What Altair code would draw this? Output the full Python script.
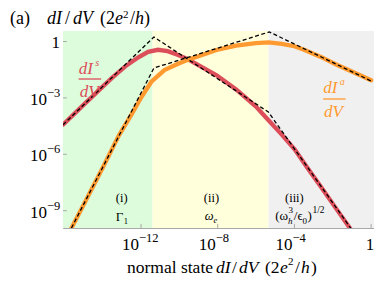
import altair as alt
import pandas as pd

# ---------- data (log10 units) ----------
x_min, x_max = -16.07, 0.15
y_min, y_max = -9.92, 0.56

region_start = [-16.07, -11.4, -5.35]
region_end = [-11.4, -5.35, 0.15]
region_colors = ["#DCFCDC", "#FFFFDC", "#F0F0F0"]

red_x = [-16.07, -15.0, -14.53, -14.0, -13.5, -12.82, -12.14, -11.63, -11.12, -10.61,
         -10.10, -9.59, -9.08, -8.06, -7.04, -6.02, -5.34, -4.66, -3.98, -3.3, -2.62,
         -1.85, -1.0]
red_y = [-4.43, -3.37, -2.92, -2.40, -1.92, -1.32, -0.84, -0.55, -0.44, -0.51,
         -0.70, -0.92, -1.21, -1.80, -2.55, -3.45, -4.20, -4.95, -5.75, -6.75, -7.72,
         -8.85, -10.08]

orange_x = [-15.7, -15.0, -14.0, -13.16, -12.48, -11.97, -11.46, -10.78, -10.10, -9.59,
            -9.08, -8.06, -7.04, -6.02, -5.34, -4.66, -4.0, -3.47, -2.62, -1.77, -0.92, 0.0]
orange_y = [-10.06, -8.70, -6.72, -5.0, -3.85, -2.94, -2.14, -1.52, -1.20, -0.98,
            -0.81, -0.45, -0.22, -0.08, -0.05, -0.12, -0.25, -0.45, -0.82, -1.25, -1.63, -2.06]

red_asym_x = [-16.07, -11.33, -5.36, -1.07]
red_asym_y = [-4.43, 0.24, -3.75, -9.92]
orange_asym_x = [-15.63, -11.33, -5.31, 0.0]
orange_asym_y = [-9.92, -1.41, 0.51, -2.10]

x_tick_vals = [-12, -8, -4]
x_tick_exp = ["\u221212", "\u22128", "\u22124"]
x_one = [0]
y_tick_vals = [-3, -6, -9]
y_tick_exp = ["\u22123", "\u22126", "\u22129"]
y_one = [0]

RED = "#DC4E5A"
ORANGE = "#FF9A30"
FONT = "Liberation Serif"
W, H = 311, 197
OX, OY = 63, 31          # absolute page position of plot origin
K = W / 318.0            # horizontal factor relative to the reference picture

xs = alt.Scale(domain=[x_min, x_max], nice=False, zero=False)
ys = alt.Scale(domain=[y_min, y_max], nice=False, zero=False)

regions = pd.DataFrame({"start": region_start, "end": region_end, "color": region_colors,
                        "y0": [y_min] * 3, "y1": [y_max] * 3})
bg = alt.Chart(regions).mark_rect().encode(
    x=alt.X("start:Q", scale=xs,
            axis=alt.Axis(values=[], title=None, grid=False, ticks=False, labels=False,
                          domainColor="#A8A8A8")),
    x2="end:Q",
    y=alt.Y("y0:Q", scale=ys,
            axis=alt.Axis(values=[], title=None, grid=False, ticks=False, labels=False,
                          domainColor="#A8A8A8")),
    y2="y1:Q",
    color=alt.Color("color:N", scale=None),
)

# small inward ticks
all_x = x_tick_vals + x_one
all_y = y_tick_vals + y_one
xt = pd.DataFrame({"v": all_x, "a": [y_min] * len(all_x), "b": [y_min + 0.22] * len(all_x)})
yt = pd.DataFrame({"v": all_y, "a": [x_min] * len(all_y), "b": [x_min + 0.2] * len(all_y)})
xticks = alt.Chart(xt).mark_rule(color="#A8A8A8", strokeWidth=1).encode(
    x=alt.X("v:Q", scale=xs), y=alt.Y("a:Q", scale=ys), y2="b:Q")
yticks = alt.Chart(yt).mark_rule(color="#A8A8A8", strokeWidth=1).encode(
    y=alt.Y("v:Q", scale=ys), x=alt.X("a:Q", scale=xs), x2="b:Q")

# tick labels: "10" plus raised exponent
xl = pd.DataFrame({"v": x_tick_vals, "e": x_tick_exp, "b": ["10"] * 3, "y": [y_min] * 3})
yl = pd.DataFrame({"v": y_tick_vals, "e": y_tick_exp, "b": ["10"] * 3, "x": [x_min] * 3})
x1 = pd.DataFrame({"v": x_one, "b": ["1"], "y": [y_min]})
y1 = pd.DataFrame({"v": y_one, "b": ["1"], "x": [x_min]})
tk = dict(font=FONT, baseline="alphabetic", color="black")
xl_base = alt.Chart(xl).mark_text(align="right", dx=-2, dy=22, fontSize=17, **tk).encode(
    x=alt.X("v:Q", scale=xs), y=alt.Y("y:Q", scale=ys), text="b:N")
xl_exp = alt.Chart(xl).mark_text(align="left", dx=-2, dy=14, fontSize=12.5, **tk).encode(
    x=alt.X("v:Q", scale=xs), y=alt.Y("y:Q", scale=ys), text="e:N")
x1_lab = alt.Chart(x1).mark_text(align="center", dx=-1, dy=22, fontSize=17, **tk).encode(
    x=alt.X("v:Q", scale=xs), y=alt.Y("y:Q", scale=ys), text="b:N")
yl_base = alt.Chart(yl).mark_text(align="right", dx=-16, dy=7, fontSize=17, **tk).encode(
    y=alt.Y("v:Q", scale=ys), x=alt.X("x:Q", scale=xs), text="b:N")
yl_exp = alt.Chart(yl).mark_text(align="left", dx=-16, dy=-1, fontSize=12.5, **tk).encode(
    y=alt.Y("v:Q", scale=ys), x=alt.X("x:Q", scale=xs), text="e:N")
y1_lab = alt.Chart(y1).mark_text(align="right", dx=-3, dy=6, fontSize=17, **tk).encode(
    y=alt.Y("v:Q", scale=ys), x=alt.X("x:Q", scale=xs), text="b:N")


def curve(xv, yv, color, width, dash=None):
    df = pd.DataFrame({"x": xv, "y": yv, "o": range(len(xv))})
    kw = dict(color=color, strokeWidth=width, clip=True, strokeCap="round")
    if dash:
        kw["strokeDash"] = dash
        kw["strokeCap"] = "butt"
    return alt.Chart(df).mark_line(**kw).encode(
        x=alt.X("x:Q", scale=xs), y=alt.Y("y:Q", scale=ys), order="o:Q")


red = curve(red_x, red_y, RED, 4.3)
orange = curve(orange_x, orange_y, ORANGE, 4.3)
red_d = curve(red_asym_x, red_asym_y, "black", 1.3, [4, 2.5])
orange_d = curve(orange_asym_x, orange_asym_y, "black", 1.3, [4, 2.5])

# ---------- text annotations: (text, x, baseline y, size, italic, color, inside plot) ----------
segs = [
    ("(a)", 10, 24, 18, False, "black", False),
    ("dI", 47, 24, 18, True, "black", False),
    ("/", 65, 24, 18, False, "black", False),
    ("dV", 73, 24, 18, True, "black", False),
    ("(2", 100, 24, 18, False, "black", False),
    ("e", 115, 24, 18, True, "black", False),
    ("2", 123, 18, 11, False, "black", False),
    ("/", 130, 24, 18, False, "black", False),
    ("h", 135, 24, 18, True, "black", False),
    (")", 144, 24, 18, False, "black", False),
    ("normal state", 127, 273, 17.5, False, "black", False),
    ("dI", 216, 273, 17.5, True, "black", False),
    ("/", 232, 273, 17.5, False, "black", False),
    ("dV", 239, 273, 17.5, True, "black", False),
    ("(2", 265, 273, 17.5, False, "black", False),
    ("e", 280, 273, 17.5, True, "black", False),
    ("2", 288, 265, 11, False, "black", False),
    ("/", 295, 273, 17.5, False, "black", False),
    ("h", 301, 273, 17.5, True, "black", False),
    (")", 311, 273, 17.5, False, "black", False),
    # curve labels
    ("dI", 79, 74, 17, True, RED, True),
    ("s", 96, 66, 10, True, RED, True),
    ("dV", 80, 97, 17, True, RED, True),
    ("dI", 329, 93, 17, True, ORANGE, True),
    ("a", 346, 85, 10, True, ORANGE, True),
    ("dV", 330, 117, 17, True, ORANGE, True),
    # regions
    ("(i)", 117, 202, 12.5, False, "black", True),
    ("\u0393", 117, 221, 13, False, "black", True),
    ("1", 125, 224, 8.5, False, "black", True),
    ("(ii)", 207, 202, 12.5, False, "black", True),
    ("\u03c9", 208, 220, 12.5, True, "black", True),
    ("e", 217, 223, 8.5, True, "black", True),
    ("(iii)", 290, 202, 12.5, False, "black", True),
    ("(\u03c9", 280, 220, 13, False, "black", True),
    ("h", 293, 224, 9, True, "black", True),
    ("3", 293.5, 213, 9, False, "black", True),
    ("/\u03f5", 299, 220, 13, False, "black", True),
    ("0", 308, 224, 9, False, "black", True),
    (")", 313, 220, 13, False, "black", True),
    ("1/2", 318, 213, 9.5, False, "black", True),
]
tdf = pd.DataFrame(segs, columns=["t", "ax", "ay", "size", "it", "color", "inside"])
tdf["px"] = [(a - OX) * K if ins else a - OX for a, ins in zip(tdf["ax"], tdf["inside"])]
tdf["py"] = tdf["ay"] - OY


def text_layer(df, style):
    return alt.Chart(df).mark_text(align="left", baseline="alphabetic", font=FONT,
                                   fontStyle=style, clip=False).encode(
        x=alt.X("px:Q", scale=None), y=alt.Y("py:Q", scale=None), text="t:N",
        size=alt.Size("size:Q", scale=None), color=alt.Color("color:N", scale=None))


t_it = text_layer(tdf[tdf["it"]], "italic")
t_no = text_layer(tdf[~tdf["it"]], "normal")

bars = pd.DataFrame({"a": [79, 329], "b": [102, 352], "y": [79, 99], "c": [RED, ORANGE]})
bars["a"] = (bars["a"] - OX) * K
bars["b"] = (bars["b"] - OX) * K
bars["y"] -= OY
frac = alt.Chart(bars).mark_rule(strokeWidth=1.3).encode(
    x=alt.X("a:Q", scale=None), x2="b:Q", y=alt.Y("y:Q", scale=None),
    color=alt.Color("c:N", scale=None))

chart = alt.layer(
    bg, xticks, yticks, red, orange, red_d, orange_d,
    xl_base, xl_exp, x1_lab, yl_base, yl_exp, y1_lab, t_it, t_no, frac
).properties(
    width=W, height=H,
    autosize=alt.AutoSizeParams(type="none"),
    padding={"left": OX - 8, "top": OY - 8, "right": 0, "bottom": 49},
).configure_view(stroke=None).configure(background="white")

chart.save("out.html", embed_options={"renderer": "svg", "actions": False})
